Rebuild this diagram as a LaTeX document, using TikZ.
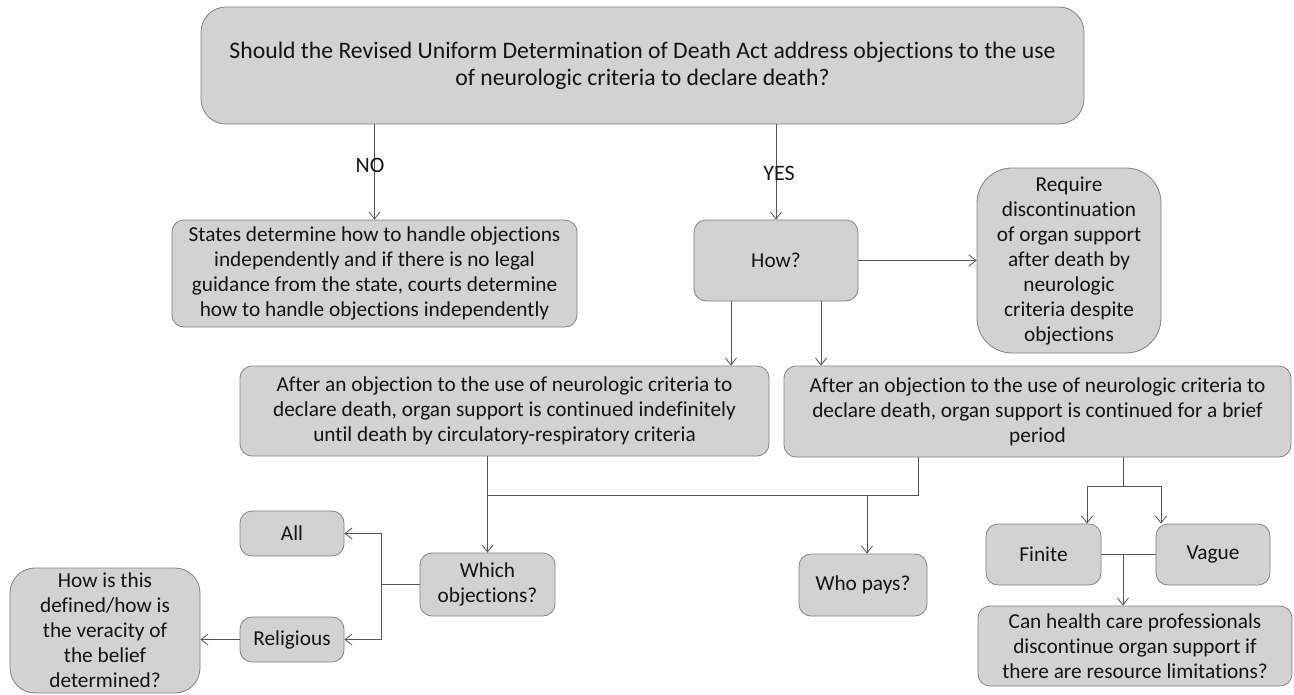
\documentclass[tikz,border=0pt]{standalone}
\usepackage{fontspec}
\setmainfont{Carlito}[Ligatures=CommonOff]
\usetikzlibrary{arrows.meta}
\definecolor{boxfill}{RGB}{210,210,210}
\definecolor{boxdraw}{RGB}{130,130,130}
\definecolor{linec}{RGB}{85,85,85}
\definecolor{txt}{RGB}{20,20,20}
\begin{document}
\begin{tikzpicture}[x=1pt,y=-1pt,
  box/.style={draw=boxdraw, fill=boxfill, line width=0.8pt, rounded corners=#1,
    inner sep=0pt, align=center, text=txt, font=\fontsize{21.3}{25}\selectfont},
  box/.default=12pt,
  conn/.style={draw=linec, line width=0.8pt},
  arr/.style={conn, -{Straight Barb[length=7pt,width=11pt]}},
  lbl/.style={text=txt, inner sep=0pt, font=\fontsize{22}{25}\selectfont}]
\fill[white] (0,0) rectangle (1294,694);
\useasboundingbox (0,0) rectangle (1294,694);

\node[box=25pt, minimum width=883pt, minimum height=117pt, font=\fontsize{23.7}{27}\selectfont] (top) at (642.5,65.5)
  {Should the Revised Uniform Determination of Death Act address objections to the use\\of neurologic criteria to declare death?};
\node[box, minimum width=405pt, minimum height=107pt] (states) at (374.5,273.5)
  {States determine how to handle objections\\independently and if there is no legal\\guidance from the state, courts determine\\how to handle objections independently};
\node[box, minimum width=164pt, minimum height=81pt] (how) at (776,260.5) {How?};
\node[box=35pt, minimum width=184pt, minimum height=185pt] (require) at (1069,260.5)
  {Require\\discontinuation\\of organ support\\after death by\\neurologic\\criteria despite\\objections};
\node[box, minimum width=529pt, minimum height=90pt] (midL) at (504.5,411)
  {After an objection to the use of neurologic criteria to\\declare death, organ support is continued indefinitely\\until death by circulatory-respiratory criteria};
\node[box, minimum width=507pt, minimum height=91pt] (midR) at (1037.5,411.5)
  {After an objection to the use of neurologic criteria to\\declare death, organ support is continued for a brief\\period};
\node[box, minimum width=135pt, minimum height=63pt] (which) at (487.5,584.5) {Which\\objections?};
\node[box, minimum width=104pt, minimum height=45pt] (all) at (292,533.5) {All};
\node[box, minimum width=104pt, minimum height=45pt] (religious) at (292,639.5) {Religious};
\node[box=25pt, minimum width=190pt, minimum height=125pt] (howis) at (105,630.5)
  {How is this\\defined/how is\\the veracity of\\the belief\\determined?};
\node[box, minimum width=128pt, minimum height=62pt] (whopays) at (863,585) {Who pays?};
\node[box, minimum width=115pt, minimum height=61pt] (finite) at (1043.5,554.5) {Finite};
\node[box, minimum width=114pt, minimum height=61pt] (vague) at (1213,554.5) {Vague};
\node[box, minimum width=314pt, minimum height=80pt] (can) at (1135,646)
  {Can health care professionals\\discontinue organ support if\\there are resource limitations?};

% top branches
\draw[arr] (top.south -| states.north) -- (states.north);
\draw[arr] (top.south -| how.north) -- (how.north);
\node[lbl] (no) at (370,165) {NO};
\node[lbl] (yes) at (779,173) {YES};

% how
\draw[arr] (how.east) -- (require.west);
\coordinate (hl) at (731,0);
\coordinate (hr) at (821,0);
\draw[arr] (how.south -| hl) -- (midL.north -| hl);
\draw[arr] (how.south -| hr) -- (midR.north -| hr);

% middle to which / who pays
\coordinate (hub) at (918,495);
\coordinate (wp) at (867,495);
\draw[arr] (midL.south -| which.north) -- (which.north);
\draw[conn] (midR.south -| hub) -- (hub) -- (hub -| which.north);
\draw[arr] (wp) -- (wp |- whopays.north);

% brief period fork
\coordinate (fork) at (1123,486);
\coordinate (fl) at (1087,486);
\coordinate (fr) at (1161,486);
\draw[conn] (midR.south -| fork) -- (fork);
\draw[conn] (fl) -- (fr);
\draw[arr] (fl) -- (fl |- finite.north);
\draw[arr] (fr) -- (fr |- vague.north);
\draw[conn] (finite.east) -- (vague.west);
\draw[arr] (finite.east -| fork) -- (fork |- can.north);

% which objections
\coordinate (wl) at (381,0);
\draw[conn] (which.west) -- (which.west -| wl);
\draw[arr] (which.west -| wl) |- (all.east);
\draw[arr] (which.west -| wl) |- (religious.east);
\draw[arr] (religious.west) -- (religious.west -| howis.east);
\end{tikzpicture}
\end{document}
